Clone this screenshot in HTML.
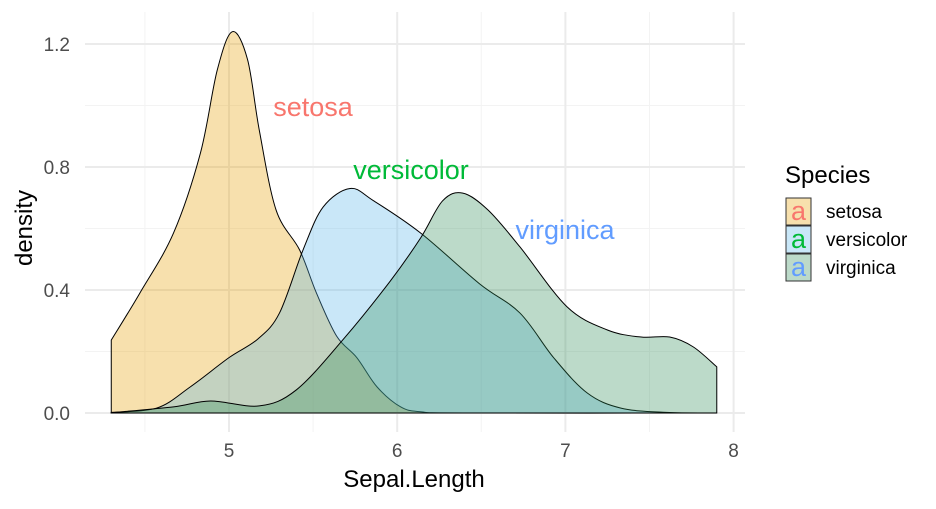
<!DOCTYPE html>
<html><head><meta charset="utf-8"><style>
body{margin:0;background:#fff}
svg text{font-family:"Liberation Sans",Arial,sans-serif}
</style></head><body>
<svg id="chart" width="936" height="504" viewBox="0 0 936 504">
<g id="grid"></g>
<g id="areas"></g>
<g id="ticks"></g>
<text x="313" y="116" font-size="27" fill="#F8766D" text-anchor="middle">setosa</text>
<text x="411" y="179" font-size="27" fill="#00BA38" text-anchor="middle">versicolor</text>
<text x="565" y="239" font-size="27" fill="#619CFF" text-anchor="middle">virginica</text>
<text x="414" y="487" font-size="24" fill="#000" text-anchor="middle">Sepal.Length</text>
<text transform="translate(32,228) rotate(-90)" font-size="24" fill="#000" text-anchor="middle">density</text>
<g>
<text x="785" y="183" font-size="24" fill="#000">Species</text>
<g id="legend"></g>
</g>
</svg>
<script>
const xTicks=[5,6,7,8];
const xMinor=[4.5,5.5,6.5,7.5];
const yTicks=[0,0.4,0.8,1.2];
const yMinor=[0.2,0.6,1.0];
const yTickLabels=["0.0","0.4","0.8","1.2"];
const species=["setosa","versicolor","virginica"];
const fills=["#E69F00","#56B4E9","#2E8B57"];
const labelColors=["#F8766D","#00BA38","#619CFF"];
const setosaX=[4.3,4.47,4.67,4.83,4.93,5.02,5.11,5.18,5.28,5.42,5.52,5.64,5.76,5.88,6.02,6.14,6.4,7.9];
const setosaY=[0.237,0.39,0.585,0.845,1.115,1.24,1.15,0.92,0.66,0.53,0.39,0.25,0.18,0.085,0.02,0.004,0,0];
const versicolorX=[4.3,4.57,4.77,5.0,5.17,5.30,5.44,5.56,5.72,5.86,6.14,6.49,6.73,6.93,7.13,7.33,7.6,7.9];
const versicolorY=[0.002,0.016,0.085,0.18,0.24,0.325,0.53,0.67,0.73,0.69,0.585,0.42,0.325,0.18,0.065,0.016,0.002,0];
const virginicaX=[4.3,4.67,4.89,5.18,5.4,5.68,5.96,6.14,6.27,6.39,6.54,6.73,7.01,7.25,7.45,7.62,7.76,7.9];
const virginicaY=[0.001,0.02,0.039,0.023,0.075,0.24,0.43,0.57,0.69,0.715,0.66,0.54,0.345,0.27,0.247,0.247,0.215,0.15];
const seriesX=[setosaX,versicolorX,virginicaX];
const seriesY=[setosaY,versicolorY,virginicaY];

const NS="http://www.w3.org/2000/svg";
const xs=v=>229+(v-5)*168.2;
const ys=v=>413-v*307.5;
const L=85,R=745,T=12,B=432;
function mk(tag,attrs,parent){const e=document.createElementNS(NS,tag);for(const k in attrs)e.setAttribute(k,attrs[k]);parent.appendChild(e);return e;}
const grid=document.getElementById('grid');
xMinor.forEach(v=>{const e=mk('line',{x1:xs(v),x2:xs(v),y1:T,y2:B,stroke:'#F3F3F3','stroke-width':1},grid);

});
yMinor.forEach(v=>{const e=mk('line',{x1:L,x2:R,y1:ys(v),y2:ys(v),stroke:'#F3F3F3','stroke-width':1},grid);

});
xTicks.forEach(v=>{const e=mk('line',{x1:xs(v),x2:xs(v),y1:T,y2:B,stroke:'#EBEBEB','stroke-width':2},grid);

});
yTicks.forEach(v=>{const e=mk('line',{x1:L,x2:R,y1:ys(v),y2:ys(v),stroke:'#EBEBEB','stroke-width':2},grid);

});
const ticks=document.getElementById('ticks');
xTicks.forEach(v=>{const t=mk('text',{x:xs(v),y:457,'font-size':19,fill:'#4D4D4D','text-anchor':'middle'},ticks);t.textContent=String(v);

});
yTicks.forEach((v,i)=>{const t=mk('text',{x:70,y:ys(v)+7,'font-size':19,fill:'#4D4D4D','text-anchor':'end'},ticks);t.textContent=yTickLabels[i];

});
function curve(px,py){
  let d='M'+px[0]+','+py[0];
  for(let i=0;i<px.length-1;i++){
    const p0=[px[Math.max(i-1,0)],py[Math.max(i-1,0)]],p1=[px[i],py[i]],p2=[px[i+1],py[i+1]],p3=[px[Math.min(i+2,px.length-1)],py[Math.min(i+2,px.length-1)]];
    const c1=[p1[0]+(p2[0]-p0[0])/6,p1[1]+(p2[1]-p0[1])/6],c2=[p2[0]-(p3[0]-p1[0])/6,p2[1]-(p3[1]-p1[1])/6];
    d+=' C'+c1[0]+','+c1[1]+' '+c2[0]+','+c2[1]+' '+p2[0]+','+p2[1];
  }
  return d;
}
const areas=document.getElementById('areas');
species.forEach((s,k)=>{
  const px=seriesX[k].map(xs),py=seriesY[k].map(v=>Math.min(ys(v),413));
  const top=curve(px,py);
  const d=top+' L'+px[px.length-1]+','+ys(0)+' L'+px[0]+','+ys(0)+' Z';
  const e=mk('path',{d:d,fill:fills[k],'fill-opacity':0.32,stroke:'#000','stroke-width':1},areas);
  
  
});
const leg=document.getElementById('legend');
species.forEach((s,k)=>{
  const y=198+k*28;
  mk('rect',{x:786,y:y,width:25,height:27,fill:'#fff',stroke:'none'},leg);
  const r2=mk('rect',{x:786,y:y,width:25,height:27,fill:fills[k],'fill-opacity':0.32,stroke:'#333','stroke-width':1},leg);
  
  
  const a=mk('text',{x:798.5,y:y+22,'font-size':27,fill:labelColors[k],'text-anchor':'middle'},leg);a.textContent='a';
  
  
  const t=mk('text',{x:826,y:y+20,'font-size':19,fill:'#000'},leg);t.textContent=s;
  
  
});
</script>
</body></html>
